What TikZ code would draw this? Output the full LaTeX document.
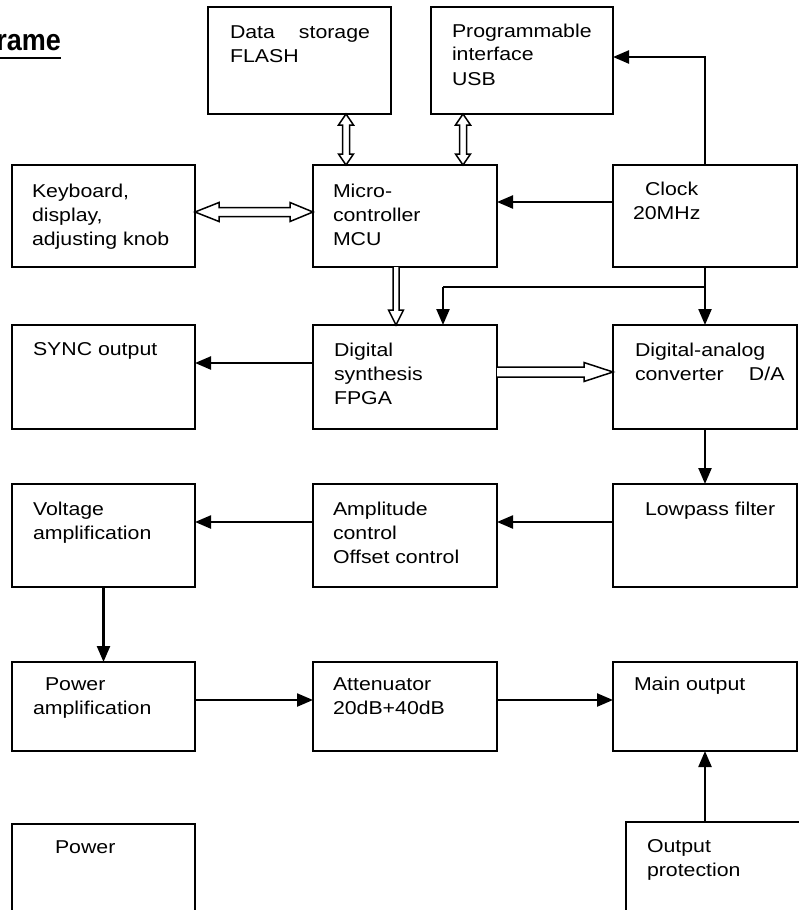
\documentclass[tikz,border=0pt]{standalone}
\usepackage{fontspec}
\setmainfont{Liberation Sans}[FakeStretch=1.145]
\newfontfamily\titlefont{Liberation Sans}[FakeStretch=0.9]
\usetikzlibrary{arrows.meta,calc}
\tikzset{
  box/.style={draw, line width=1.6pt, inner sep=0pt, outer sep=0pt},
  txt/.style={anchor=north west, inner sep=0pt, outer sep=0pt, align=left,
    font=\fontsize{18.6}{24}\selectfont},
  arr/.style={line width=2.3pt, -{Triangle[length=16pt,width=13pt]}},
  thinl/.style={line width=1.4pt},
  hol/.style={draw, line width=1.5pt, fill=white, line join=miter},
  dblv/.style={to path={-- ($(\tikztostart)+(7.5,11)$) -- ($(\tikztostart)+(3.5,11)$)
     -- ($(\tikztotarget)+(3.5,-11)$) -- ($(\tikztotarget)+(7.5,-11)$) -- (\tikztotarget)
     -- ($(\tikztotarget)+(-7.5,-11)$) -- ($(\tikztotarget)+(-3.5,-11)$)
     -- ($(\tikztostart)+(-3.5,11)$) -- ($(\tikztostart)+(-7.5,11)$) -- cycle}},
  dblh/.style={to path={-- ($(\tikztostart)+(24,-9.5)$) -- ($(\tikztostart)+(24,-4.5)$)
     -- ($(\tikztotarget)+(-23,-4.5)$) -- ($(\tikztotarget)+(-23,-9.5)$) -- (\tikztotarget)
     -- ($(\tikztotarget)+(-23,9.5)$) -- ($(\tikztotarget)+(-23,4.5)$)
     -- ($(\tikztostart)+(24,4.5)$) -- ($(\tikztostart)+(24,9.5)$) -- cycle}},
  sglv/.style={to path={($(\tikztostart)+(-3,0)$) -- ($(\tikztotarget)+(-3,-15)$)
     -- ($(\tikztotarget)+(-7.5,-15)$) -- (\tikztotarget) -- ($(\tikztotarget)+(7.5,-15)$)
     -- ($(\tikztotarget)+(3,-15)$) -- ($(\tikztostart)+(3,0)$)}},
  sglh/.style={to path={($(\tikztostart)+(0,-5)$) -- ($(\tikztotarget)+(-29,-5)$)
     -- ($(\tikztotarget)+(-29,-9.5)$) -- (\tikztotarget) -- ($(\tikztotarget)+(-29,9.5)$)
     -- ($(\tikztotarget)+(-29,5)$) -- ($(\tikztostart)+(0,5)$)}},
}
\newcommand\mybox[5]{\node[box, minimum width={#4-#2}, minimum height={#5-#3}] (#1) at ({(#2+#4)/2},{(#3+#5)/2}) {};}
\newcommand\mytext[4]{\node[txt] (#1) at (#2,{#3-16.8}) {\strut #4};}
\begin{document}
\begin{tikzpicture}[x=1pt,y=-1pt]
\useasboundingbox (0,0) rectangle (798,910);
% title
\node[anchor=base east, inner sep=0pt, font=\titlefont\bfseries\fontsize{30}{32}\selectfont] (title) at (61,50) {rame};
\draw[line width=2.5pt] ([yshift=-8pt]title.base west) -- ([yshift=-8pt]title.base east);
% boxes
\mybox{flash}{208}{7}{391}{114}
\mybox{usb}{431}{7}{613}{114}
\mybox{kbd}{12}{165}{195}{267}
\mybox{mcu}{313}{165}{497}{267}
\mybox{clock}{613}{165}{797}{267}
\mybox{sync}{12}{325}{195}{429}
\mybox{fpga}{313}{325}{497}{429}
\mybox{dac}{613}{325}{797}{429}
\mybox{volt}{12}{484}{195}{587}
\mybox{ampl}{313}{484}{497}{587}
\mybox{lowpass}{613}{484}{797}{587}
\mybox{pamp}{12}{662}{195}{751}
\mybox{atten}{313}{662}{497}{751}
\mybox{mainout}{613}{662}{797}{751}
\mybox{power}{12}{824}{195}{930}
\mybox{outprot}{626}{822}{810}{930}
% texts
\mytext{flasht}{230}{38}{\makebox[140pt][s]{Data storage}\\FLASH}
\mytext{usbt}{452}{37}{Programmable\\interface\\USB}
\mytext{kbdt}{32}{197}{Keyboard,\\display,\\adjusting knob}
\mytext{mcut}{333}{197}{Micro-\\controller\\MCU}
\mytext{clockt}{633}{195}{\hspace*{12pt}Clock\\20MHz}
\mytext{synct}{33}{355}{SYNC output}
\mytext{fpgat}{334}{356}{Digital\\synthesis\\FPGA}
\mytext{dact}{635}{356}{Digital-analog\\\makebox[114pt][l]{converter}D/A}
\mytext{voltt}{33}{515}{Voltage\\amplification}
\mytext{amplt}{333}{515}{Amplitude\\control\\Offset control}
\mytext{lowpasst}{645}{515}{Lowpass filter}
\mytext{pampt}{33}{690}{\hspace*{12pt}Power\\amplification}
\mytext{attent}{333}{690}{Attenuator\\20dB+40dB}
\mytext{mainoutt}{634}{690}{Main output}
\mytext{powert}{55}{853}{Power}
\mytext{outprott}{647}{852}{Output\\protection}
% helper levels
\coordinate (x346) at (346,0);
\coordinate (x463) at (463,0);
\coordinate (x396) at (396,0);
\coordinate (x443) at (443,0);
\coordinate (y57) at (0,57);
\coordinate (y202) at (0,202);
\coordinate (y212) at (0,212);
\coordinate (y287) at (0,287);
\coordinate (y363) at (0,363);
\coordinate (y372) at (0,372);
\coordinate (y522) at (0,522);
\coordinate (y700) at (0,700);
% hollow bus arrows
\coordinate (h1a) at (flash.south -| x346);
\coordinate (h1b) at (mcu.north -| x346);
\draw[hol] (h1a) to[dblv] (h1b);
\coordinate (h2a) at (usb.south -| x463);
\coordinate (h2b) at (mcu.north -| x463);
\draw[hol] (h2a) to[dblv] (h2b);
\coordinate (h3a) at (kbd.east |- y212);
\coordinate (h3b) at (mcu.west |- y212);
\draw[hol] (h3a) to[dblh] (h3b);
\coordinate (h4a) at (mcu.south -| x396);
\coordinate (h4b) at (fpga.north -| x396);
\draw[hol] (h4a) to[sglv] (h4b);
\coordinate (h5a) at (fpga.east |- y372);
\coordinate (h5b) at (dac.west |- y372);
\draw[hol] (h5a) to[sglh] (h5b);
% signal arrows
\draw[arr] (clock.west |- y202) -- (mcu.east |- y202);
\draw[arr] (clock.north) |- (usb.east |- y57);
\draw[arr] (clock.south) -- (dac.north);
\coordinate (br) at (clock.south |- y287);
\coordinate (bk) at (br -| x443);
\draw[thinl] (br) -- (bk);
\draw[arr] (bk) -- (fpga.north -| x443);
\draw[arr] (fpga.west |- y363) -- (sync.east |- y363);
\draw[arr] (dac.south) -- (lowpass.north);
\draw[arr] (lowpass.west |- y522) -- (ampl.east |- y522);
\draw[arr] (ampl.west |- y522) -- (volt.east |- y522);
\draw[arr] (volt.south) -- (pamp.north);
\draw[arr] (pamp.east |- y700) -- (atten.west |- y700);
\draw[arr] (atten.east |- y700) -- (mainout.west |- y700);
\draw[arr] (mainout.south |- outprot.north) -- (mainout.south);
\end{tikzpicture}
\end{document}
